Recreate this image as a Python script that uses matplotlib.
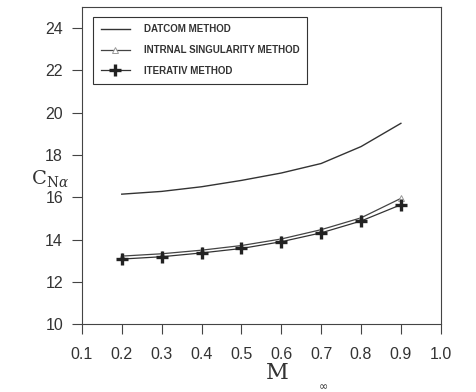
import matplotlib
matplotlib.use('Agg')
import matplotlib.pyplot as plt
from matplotlib.lines import Line2D

# Mach number and normal force slope values
mach = [0.2, 0.3, 0.4, 0.5, 0.6, 0.7, 0.8, 0.9]
datcom = [16.15, 16.28, 16.5, 16.8, 17.15, 17.6, 18.4, 19.5]
intrnal = [13.22, 13.33, 13.5, 13.72, 14.03, 14.47, 15.03, 15.95]
iterativ = [13.08, 13.19, 13.37, 13.58, 13.9, 14.32, 14.88, 15.65]

xticks = [0.1, 0.2, 0.3, 0.4, 0.5, 0.6, 0.7, 0.8, 0.9, 1.0]
yticks = [10, 12, 14, 16, 18, 20, 22, 24]
labels = ['DATCOM METHOD', 'INTRNAL SINGULARITY METHOD', 'ITERATIV METHOD']

plt.rcParams['font.family'] = ['Liberation Sans', 'DejaVu Sans']

fig = plt.figure(figsize=(4.76, 3.92), dpi=100)
ax = fig.add_axes([0.172, 0.173, 0.754, 0.809])

ax.plot(mach, datcom, color='#333333', lw=1.0)
ax.plot(mach, intrnal, color='#444444', lw=0.9, marker='^', ms=5,
        mfc='white', mec='#999999', mew=0.7)
ax.plot(mach, iterativ, color='#333333', lw=0.9)
ax.plot(mach, iterativ, ls='none', marker='+', ms=9, mew=2.4,
        color='#222222')

ax.set_xlim(0.1, 1.0)
ax.set_ylim(10, 25)
ax.set_xticks(xticks)
ax.set_xticklabels(['%.1f' % v for v in xticks])
ax.set_yticks(yticks)
ax.tick_params(direction='out', length=7.5, width=0.8, color='#444444',
               labelsize=11.5, labelcolor='#333333')
ax.tick_params(axis='y', pad=6)
ax.tick_params(axis='x', pad=9)
for s in ax.spines.values():
    s.set_color('#444444')
    s.set_linewidth(0.8)

# legend with custom handles so the plus marker shows
handles = [
    Line2D([], [], color='#333333', lw=1.0),
    Line2D([], [], color='#444444', lw=0.9, marker='^', ms=5, mfc='white',
           mec='#999999', mew=0.7),
    Line2D([], [], color='#333333', lw=0.9, marker='+', ms=9, mew=2.4,
           mec='#222222'),
]
leg = ax.legend(handles, labels, loc='upper left', bbox_to_anchor=(0.031, 0.97),
                fancybox=False, edgecolor='#333333', framealpha=1,
                prop={'size': 7, 'weight': 'bold'}, handlelength=3,
                labelspacing=1.1, borderpad=0.8, handletextpad=1.4,
                borderaxespad=0)
leg.get_frame().set_linewidth(0.8)
for t in leg.get_texts():
    t.set_color('#333333')

fig.text(0.065, 0.545, r'C$_{\mathrm{N}\alpha}$', family='serif', fontsize=14,
         color='#333333', ha='left', va='center', math_fontfamily='dejavuserif')
fig.text(0.558, 0.048, 'M', family='serif', fontsize=16, color='#333333',
         ha='left', va='center')
fig.text(0.668, 0.016, r'$\infty$', fontsize=8, color='#333333',
         ha='left', va='center')

fig.savefig('out.png', dpi=100)
